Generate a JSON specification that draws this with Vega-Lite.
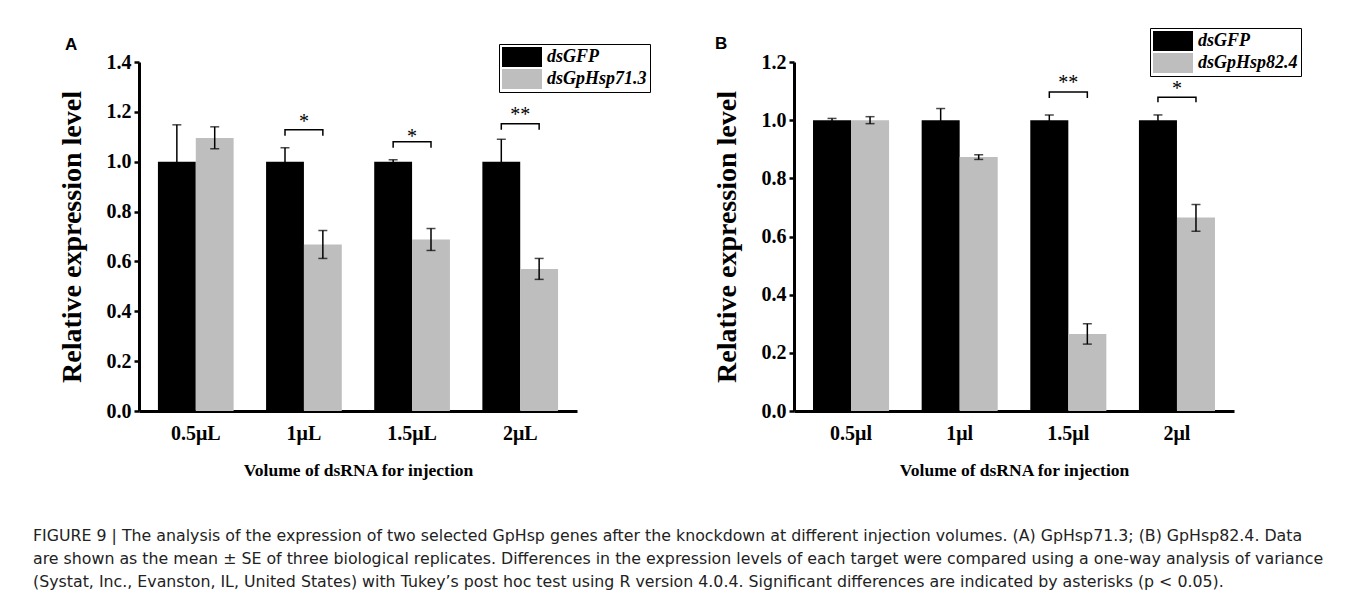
{
  "$schema": "https://vega.github.io/schema/vega-lite/v6.json",
  "background": "white",
  "padding": {"left": 33, "top": 27, "right": 5, "bottom": 4},
  "bounds": "flush",
  "spacing": 217,
  "title": {
    "text": [
      "FIGURE 9 | The analysis of the expression of two selected GpHsp genes after the knockdown at different injection volumes. (A) GpHsp71.3; (B) GpHsp82.4. Data",
      "are shown as the mean ± SE of three biological replicates. Differences in the expression levels of each target were compared using a one-way analysis of variance",
      "(Systat, Inc., Evanston, IL, United States) with Tukey’s post hoc test using R version 4.0.4. Significant differences are indicated by asterisks (p < 0.05)."
    ],
    "orient": "bottom",
    "anchor": "start",
    "frame": "bounds",
    "font": "DejaVu Sans",
    "fontSize": 15.8,
    "fontWeight": "normal",
    "color": "#222222",
    "lineHeight": 23,
    "baseline": "top",
    "offset": 50,
    "dx": -25
  },
  "datasets": {
    "barsA": [
      {"vol": "0.5μL", "grp": "dsGFP", "mean": 1.0, "lo": 0.852, "hi": 1.148},
      {"vol": "0.5μL", "grp": "dsGpHsp71.3", "mean": 1.095, "lo": 1.052, "hi": 1.14},
      {"vol": "1μL", "grp": "dsGFP", "mean": 1.0, "lo": 0.944, "hi": 1.056},
      {"vol": "1μL", "grp": "dsGpHsp71.3", "mean": 0.668, "lo": 0.612, "hi": 0.724},
      {"vol": "1.5μL", "grp": "dsGFP", "mean": 1.0, "lo": 0.992, "hi": 1.008},
      {"vol": "1.5μL", "grp": "dsGpHsp71.3", "mean": 0.688, "lo": 0.644, "hi": 0.732},
      {"vol": "2μL", "grp": "dsGFP", "mean": 1.0, "lo": 0.91, "hi": 1.09},
      {"vol": "2μL", "grp": "dsGpHsp71.3", "mean": 0.57, "lo": 0.528, "hi": 0.612}
    ],
    "sigA": [
      {"vol": "1μL", "grp": "dsGFP", "y": 1.104, "ord": 1},
      {"vol": "1μL", "grp": "dsGFP", "y": 1.128, "ord": 2},
      {"vol": "1μL", "grp": "dsGpHsp71.3", "y": 1.128, "ord": 3},
      {"vol": "1μL", "grp": "dsGpHsp71.3", "y": 1.104, "ord": 4},
      {"vol": "1.5μL", "grp": "dsGFP", "y": 1.056, "ord": 1},
      {"vol": "1.5μL", "grp": "dsGFP", "y": 1.08, "ord": 2},
      {"vol": "1.5μL", "grp": "dsGpHsp71.3", "y": 1.08, "ord": 3},
      {"vol": "1.5μL", "grp": "dsGpHsp71.3", "y": 1.056, "ord": 4},
      {"vol": "2μL", "grp": "dsGFP", "y": 1.128, "ord": 1},
      {"vol": "2μL", "grp": "dsGFP", "y": 1.152, "ord": 2},
      {"vol": "2μL", "grp": "dsGpHsp71.3", "y": 1.152, "ord": 3},
      {"vol": "2μL", "grp": "dsGpHsp71.3", "y": 1.128, "ord": 4}
    ],
    "starA": [
      {"vol": "1μL", "y": 1.172, "label": "*"},
      {"vol": "1.5μL", "y": 1.112, "label": "*"},
      {"vol": "2μL", "y": 1.2, "label": "**"}
    ],
    "barsB": [
      {"vol": "0.5μl", "grp": "dsGFP", "mean": 1.0, "lo": 0.994, "hi": 1.006},
      {"vol": "0.5μl", "grp": "dsGpHsp82.4", "mean": 1.0, "lo": 0.988, "hi": 1.012},
      {"vol": "1μl", "grp": "dsGFP", "mean": 1.0, "lo": 0.96, "hi": 1.04},
      {"vol": "1μl", "grp": "dsGpHsp82.4", "mean": 0.873, "lo": 0.865, "hi": 0.881},
      {"vol": "1.5μl", "grp": "dsGFP", "mean": 1.0, "lo": 0.982, "hi": 1.018},
      {"vol": "1.5μl", "grp": "dsGpHsp82.4", "mean": 0.265, "lo": 0.23, "hi": 0.3},
      {"vol": "2μl", "grp": "dsGFP", "mean": 1.0, "lo": 0.982, "hi": 1.018},
      {"vol": "2μl", "grp": "dsGpHsp82.4", "mean": 0.665, "lo": 0.618, "hi": 0.71}
    ],
    "sigB": [
      {"vol": "1.5μl", "grp": "dsGFP", "y": 1.076, "ord": 1},
      {"vol": "1.5μl", "grp": "dsGFP", "y": 1.097, "ord": 2},
      {"vol": "1.5μl", "grp": "dsGpHsp82.4", "y": 1.097, "ord": 3},
      {"vol": "1.5μl", "grp": "dsGpHsp82.4", "y": 1.076, "ord": 4},
      {"vol": "2μl", "grp": "dsGFP", "y": 1.062, "ord": 1},
      {"vol": "2μl", "grp": "dsGFP", "y": 1.079, "ord": 2},
      {"vol": "2μl", "grp": "dsGpHsp82.4", "y": 1.079, "ord": 3},
      {"vol": "2μl", "grp": "dsGpHsp82.4", "y": 1.062, "ord": 4}
    ],
    "starB": [
      {"vol": "1.5μl", "y": 1.138, "label": "**"},
      {"vol": "2μl", "y": 1.117, "label": "*"}
    ]
  },
  "hconcat": [
    {
      "width": 438,
      "height": 349,
      "title": {"text": "A", "anchor": "start", "frame": "group", "font": "Liberation Sans", "fontWeight": "bold", "fontSize": 17, "dx": -74, "dy": 14, "offset": 4, "color": "black"},
      "layer": [
        {
          "data": {"name": "barsA"},
          "mark": {"type": "bar"},
          "encoding": {
            "x": {"field": "vol", "type": "nominal", "sort": null, "title": "Volume of dsRNA for injection",
                  "scale": {"domain": ["0.5μL", "1μL", "1.5μL", "2μL"], "paddingInner": 0.3, "paddingOuter": 0.175}},
            "xOffset": {"field": "grp", "type": "nominal", "scale": {"domain": ["dsGFP", "dsGpHsp71.3"], "paddingInner": 0, "paddingOuter": 0}},
            "y": {"field": "mean", "type": "quantitative", "title": "Relative expression level",
                  "scale": {"domain": [0, 1.4], "nice": false},
                  "axis": {"values": [0, 0.2, 0.4, 0.6, 0.8, 1.0, 1.2, 1.4], "format": ".1f"}},
            "color": {"field": "grp", "type": "nominal",
                      "scale": {"domain": ["dsGFP", "dsGpHsp71.3"], "range": ["#000000", "#bebebe"]},
                      "legend": {"legendX": 360, "legendY": -18}}
          }
        },
        {
          "data": {"name": "barsA"},
          "mark": {"type": "rule", "color": "black", "strokeWidth": 1.5},
          "encoding": {
            "x": {"field": "vol", "type": "nominal", "sort": null, "title": "Volume of dsRNA for injection"},
            "xOffset": {"field": "grp", "type": "nominal"},
            "y": {"field": "lo", "type": "quantitative", "title": "Relative expression level"},
            "y2": {"field": "hi"}
          }
        },
        {
          "data": {"name": "barsA"},
          "mark": {"type": "tick", "color": "black", "thickness": 1.5, "size": 9},
          "encoding": {
            "x": {"field": "vol", "type": "nominal", "sort": null, "title": "Volume of dsRNA for injection"},
            "xOffset": {"field": "grp", "type": "nominal"},
            "y": {"field": "hi", "type": "quantitative", "title": "Relative expression level"}
          }
        },
        {
          "data": {"name": "barsA"},
          "mark": {"type": "tick", "color": "black", "thickness": 1.5, "size": 9},
          "encoding": {
            "x": {"field": "vol", "type": "nominal", "sort": null, "title": "Volume of dsRNA for injection"},
            "xOffset": {"field": "grp", "type": "nominal"},
            "y": {"field": "lo", "type": "quantitative", "title": "Relative expression level"}
          }
        },
        {
          "data": {"name": "sigA"},
          "mark": {"type": "line", "color": "black", "strokeWidth": 1.5},
          "encoding": {
            "x": {"field": "vol", "type": "nominal", "sort": null, "title": "Volume of dsRNA for injection"},
            "xOffset": {"field": "grp", "type": "nominal"},
            "y": {"field": "y", "type": "quantitative", "title": "Relative expression level"},
            "detail": {"field": "vol", "type": "nominal"},
            "order": {"field": "ord", "type": "quantitative"}
          }
        },
        {
          "data": {"name": "starA"},
          "mark": {"type": "text", "font": "Liberation Serif", "fontSize": 20, "baseline": "alphabetic", "dy": 9, "color": "black"},
          "encoding": {
            "x": {"field": "vol", "type": "nominal", "sort": null, "title": "Volume of dsRNA for injection"},
            "y": {"field": "y", "type": "quantitative", "title": "Relative expression level"},
            "text": {"field": "label", "type": "nominal"}
          }
        }
      ]
    },
    {
      "width": 440,
      "height": 349,
      "title": {"text": "B", "anchor": "start", "frame": "group", "font": "Liberation Sans", "fontWeight": "bold", "fontSize": 17, "dx": -79, "dy": 29, "offset": 4, "color": "black"},
      "layer": [
        {
          "data": {"name": "barsB"},
          "mark": {"type": "bar"},
          "encoding": {
            "x": {"field": "vol", "type": "nominal", "sort": null, "title": "Volume of dsRNA for injection",
                  "scale": {"domain": ["0.5μl", "1μl", "1.5μl", "2μl"], "paddingInner": 0.3, "paddingOuter": 0.175}},
            "xOffset": {"field": "grp", "type": "nominal", "scale": {"domain": ["dsGFP", "dsGpHsp82.4"], "paddingInner": 0, "paddingOuter": 0}},
            "y": {"field": "mean", "type": "quantitative", "title": "Relative expression level",
                  "scale": {"domain": [0, 1.2], "nice": false},
                  "axis": {"values": [0, 0.2, 0.4, 0.6, 0.8, 1.0, 1.2], "format": ".1f"}},
            "color": {"field": "grp", "type": "nominal",
                      "scale": {"domain": ["dsGFP", "dsGpHsp82.4"], "range": ["#000000", "#bebebe"]},
                      "legend": {"legendX": 356, "legendY": -34}}
          }
        },
        {
          "data": {"name": "barsB"},
          "mark": {"type": "rule", "color": "black", "strokeWidth": 1.5},
          "encoding": {
            "x": {"field": "vol", "type": "nominal", "sort": null, "title": "Volume of dsRNA for injection"},
            "xOffset": {"field": "grp", "type": "nominal"},
            "y": {"field": "lo", "type": "quantitative", "title": "Relative expression level"},
            "y2": {"field": "hi"}
          }
        },
        {
          "data": {"name": "barsB"},
          "mark": {"type": "tick", "color": "black", "thickness": 1.5, "size": 9},
          "encoding": {
            "x": {"field": "vol", "type": "nominal", "sort": null, "title": "Volume of dsRNA for injection"},
            "xOffset": {"field": "grp", "type": "nominal"},
            "y": {"field": "hi", "type": "quantitative", "title": "Relative expression level"}
          }
        },
        {
          "data": {"name": "barsB"},
          "mark": {"type": "tick", "color": "black", "thickness": 1.5, "size": 9},
          "encoding": {
            "x": {"field": "vol", "type": "nominal", "sort": null, "title": "Volume of dsRNA for injection"},
            "xOffset": {"field": "grp", "type": "nominal"},
            "y": {"field": "lo", "type": "quantitative", "title": "Relative expression level"}
          }
        },
        {
          "data": {"name": "sigB"},
          "mark": {"type": "line", "color": "black", "strokeWidth": 1.5},
          "encoding": {
            "x": {"field": "vol", "type": "nominal", "sort": null, "title": "Volume of dsRNA for injection"},
            "xOffset": {"field": "grp", "type": "nominal"},
            "y": {"field": "y", "type": "quantitative", "title": "Relative expression level"},
            "detail": {"field": "vol", "type": "nominal"},
            "order": {"field": "ord", "type": "quantitative"}
          }
        },
        {
          "data": {"name": "starB"},
          "mark": {"type": "text", "font": "Liberation Serif", "fontSize": 20, "baseline": "alphabetic", "dy": 9, "color": "black"},
          "encoding": {
            "x": {"field": "vol", "type": "nominal", "sort": null, "title": "Volume of dsRNA for injection"},
            "y": {"field": "y", "type": "quantitative", "title": "Relative expression level"},
            "text": {"field": "label", "type": "nominal"}
          }
        }
      ]
    }
  ],
  "resolve": {"scale": {"color": "independent", "x": "independent", "y": "independent", "xOffset": "independent"}},
  "config": {
    "view": {"stroke": null},
    "axis": {
      "grid": false,
      "domainColor": "black",
      "domainWidth": 3,
      "tickColor": "black",
      "tickWidth": 2.5,
      "labelColor": "black",
      "titleColor": "black",
      "labelFont": "Liberation Serif",
      "labelFontWeight": "bold",
      "labelFontSize": 20,
      "titleFont": "Liberation Serif",
      "titleFontWeight": "bold"
    },
    "axisX": {"labelAngle": 0, "ticks": false, "labelPadding": 12, "titleFontSize": 17.5, "titlePadding": 18},
    "axisY": {"tickSize": 5, "labelPadding": 3, "titleFontSize": 28, "titlePadding": 20},
    "legend": {
      "orient": "none",
      "title": null,
      "direction": "vertical",
      "strokeColor": "black",
      "fillColor": "white",
      "padding": 3,
      "labelFont": "Liberation Serif",
      "labelFontStyle": "italic",
      "labelFontWeight": "bold",
      "labelFontSize": 18,
      "labelColor": "black",
      "labelOffset": 25,
      "symbolType": "M-1,-1H3V1H-1Z",
      "symbolSize": 400,
      "symbolStrokeWidth": 0,
      "symbolOpacity": 1,
      "rowPadding": 2
    }
  }
}
